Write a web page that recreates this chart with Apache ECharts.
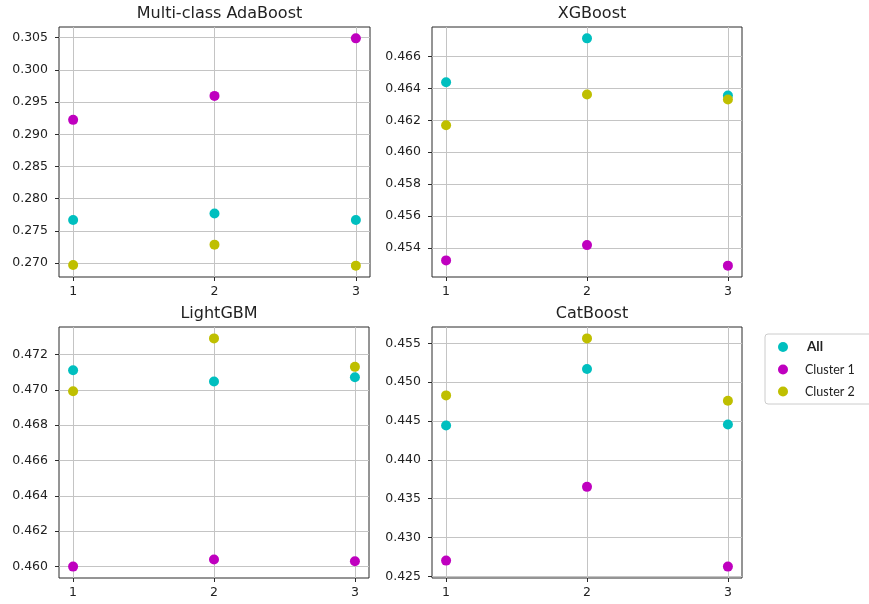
<!DOCTYPE html>
<html>
<head>
<meta charset="utf-8">
<script src="https://cdn.jsdelivr.net/npm/echarts@6/dist/echarts.min.js"></script>
<style>
  html, body { margin: 0; padding: 0; background: #fff; }
  #chart { width: 869px; height: 604px; }
</style>
</head>
<body>
<div id="chart"></div>
<script>
// Run index on the x axis of every panel
const runs = [1, 2, 3];
const xTicks = [1, 2, 3];

// Score per run for each model and data subset
const adaAll      = [0.27668, 0.27770, 0.27668];
const adaCluster1 = [0.29224, 0.29596, 0.30490];
const adaCluster2 = [0.26970, 0.27285, 0.26959];

const xgbAll      = [0.46440, 0.46715, 0.46356];
const xgbCluster1 = [0.45321, 0.45417, 0.45288];
const xgbCluster2 = [0.46169, 0.46362, 0.46331];

const lgbAll      = [0.47111, 0.47047, 0.47071];
const lgbCluster1 = [0.46000, 0.46040, 0.46030];
const lgbCluster2 = [0.46992, 0.47291, 0.47130];

const catAll      = [0.44443, 0.45169, 0.44456];
const catCluster1 = [0.42702, 0.43652, 0.42625];
const catCluster2 = [0.44830, 0.45564, 0.44761];

// y tick labels per panel
const adaTicks = [0.270, 0.275, 0.280, 0.285, 0.290, 0.295, 0.300, 0.305];
const xgbTicks = [0.454, 0.456, 0.458, 0.460, 0.462, 0.464, 0.466];
const lgbTicks = [0.460, 0.462, 0.464, 0.466, 0.468, 0.470, 0.472];
const catTicks = [0.425, 0.430, 0.435, 0.440, 0.445, 0.450, 0.455];

const seriesNames = ['All', 'Cluster 1', 'Cluster 2'];
const colors = ['#00bfbf', '#bf00bf', '#bfbf00'];

const panels = [
  { title: 'Multi-class AdaBoost', data: [adaAll, adaCluster1, adaCluster2], ticks: adaTicks,
    box: { left: 59, top: 27, width: 311, height: 250 } },
  { title: 'XGBoost', data: [xgbAll, xgbCluster1, xgbCluster2], ticks: xgbTicks,
    box: { left: 432, top: 27, width: 310, height: 250 } },
  { title: 'LightGBM', data: [lgbAll, lgbCluster1, lgbCluster2], ticks: lgbTicks,
    box: { left: 59, top: 327, width: 310, height: 251 } },
  { title: 'CatBoost', data: [catAll, catCluster1, catCluster2], ticks: catTicks,
    box: { left: 432, top: 327, width: 310, height: 251 } }
];

const FONT = 'DejaVu Sans';
const gridColor = '#c4c4c4';
const frameColor = '#2a2a2a';

// axis limits padded by 5% of the data span on each side
function padded(arrs) {
  const all = [].concat(...arrs);
  const lo = Math.min(...all), hi = Math.max(...all);
  const m = (hi - lo) * 0.05;
  return [lo - m, hi + m];
}
const xLim = (function () {
  const m = (runs[runs.length - 1] - runs[0]) * 0.05;
  return [runs[0] - m, runs[runs.length - 1] + m];
})();

const option = {
  animation: false,
  backgroundColor: '#ffffff',
  title: [],
  grid: [],
  xAxis: [],
  yAxis: [],
  series: [],
  legend: {
    orient: 'vertical',
    left: 765,
    top: 334,
    data: seriesNames,
    icon: 'circle',
    itemWidth: 10,
    itemHeight: 10,
    itemGap: 9,
    padding: [6, 40, 6, 13],
    borderColor: '#cccccc',
    borderWidth: 1,
    borderRadius: 3,
    backgroundColor: '#ffffff',
    formatter: function (name) {
      return name === 'All' ? '{a|' + name + '}' : '{b|' + name + '}';
    },
    textStyle: {
      fontFamily: 'Lato',
      color: '#222',
      padding: [0, 0, 0, 12],
      rich: {
        a: { fontFamily: 'Lato', fontSize: 13.5, fontWeight: 'bold', color: '#222', padding: [0, 0, 0, 2] },
        b: { fontFamily: 'Lato', fontSize: 12.5, color: '#222' }
      }
    }
  }
};

panels.forEach(function (p, i) {
  const yLim = padded(p.data);
  option.title.push({
    text: p.title,
    left: p.box.left + p.box.width / 2,
    top: p.box.top - 26,
    textAlign: 'center',
    textStyle: { fontFamily: FONT, fontSize: 16, fontWeight: 'normal', color: '#222' }
  });
  option.grid.push({
    left: p.box.left, top: p.box.top, width: p.box.width, height: p.box.height,
    show: true, borderColor: frameColor, borderWidth: 1, backgroundColor: 'transparent',
    containLabel: false
  });
  option.xAxis.push({
    type: 'value', gridIndex: i, min: xLim[0], max: xLim[1],
    axisLine: { show: false },
    axisTick: { show: true, length: 4, customValues: xTicks, lineStyle: { color: frameColor } },
    axisLabel: { show: true, customValues: xTicks, margin: 8, fontFamily: FONT, fontSize: 12.5, color: '#222',
      formatter: v => String(Math.round(v)) },
    splitLine: { show: true, lineStyle: { color: gridColor, width: 1 } }
  });
  option.yAxis.push({
    type: 'value', gridIndex: i, min: yLim[0], max: yLim[1],
    axisLine: { show: false },
    axisTick: { show: true, length: 4, customValues: p.ticks, lineStyle: { color: frameColor } },
    axisLabel: { show: true, customValues: p.ticks, margin: 11, fontFamily: FONT, fontSize: 12.5, color: '#222',
      formatter: v => v.toFixed(3) },
    splitLine: { show: true, lineStyle: { color: gridColor, width: 1 } }
  });
  p.data.forEach(function (vals, k) {
    option.series.push({
      name: seriesNames[k],
      type: 'scatter',
      xAxisIndex: i,
      yAxisIndex: i,
      symbol: 'circle',
      symbolSize: 10,
      itemStyle: { color: colors[k], opacity: 1 },
      data: runs.map((r, j) => [r, vals[j]]),
      z: 3
    });
  });
});

const chart = echarts.init(document.getElementById('chart'), null, { renderer: 'canvas' });
chart.setOption(option);
</script>
</body>
</html>
